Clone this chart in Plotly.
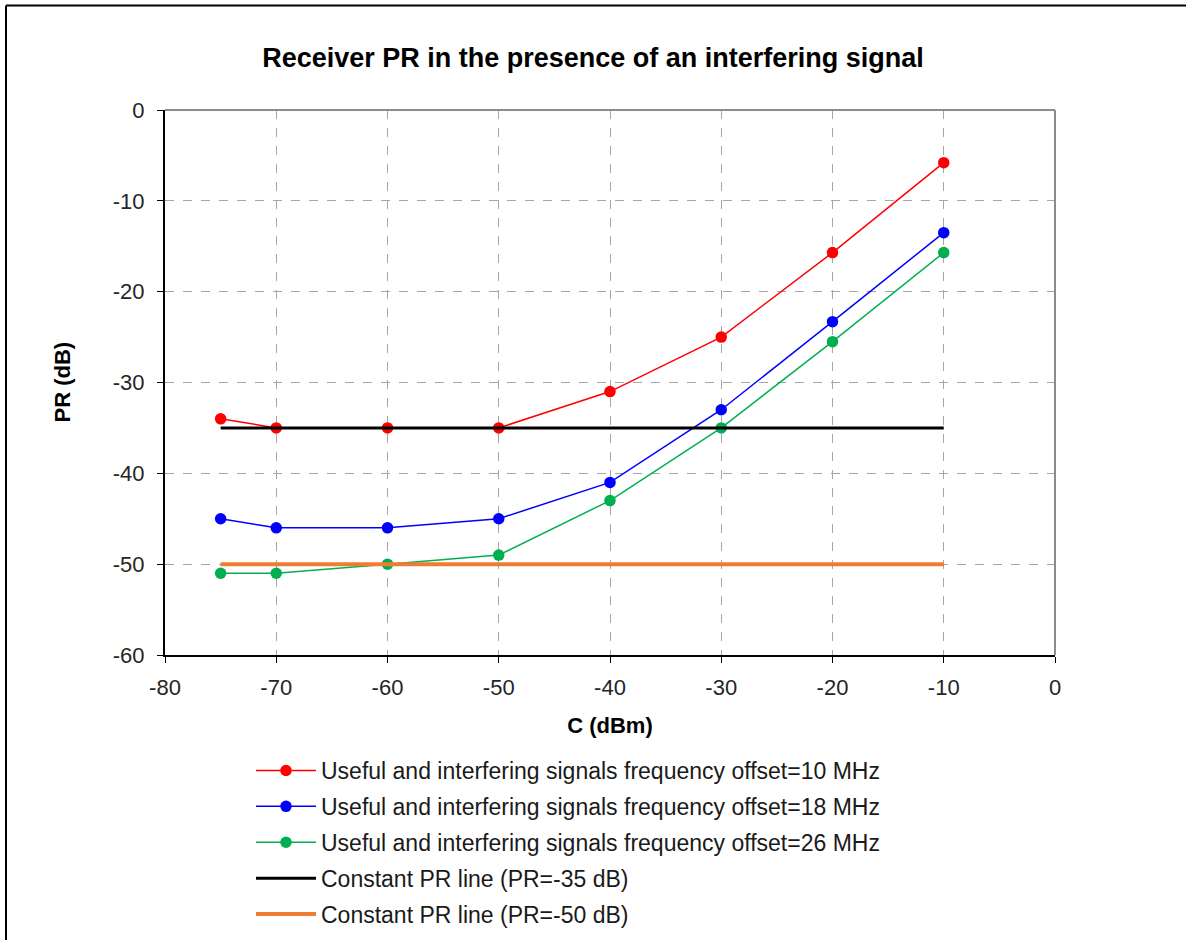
import plotly.graph_objects as go

c_dbm = [-75, -70, -60, -50, -40, -30, -20, -10]
pr_10mhz = [-34, -35, -35, -35, -31, -25, -15.7, -5.8]
pr_18mhz = [-45, -46, -46, -45, -41, -33, -23.3, -13.5]
pr_26mhz = [-51, -51, -50, -49, -43, -35, -25.5, -15.7]
const_x = [-75, -10]
const_35 = [-35, -35]
const_50 = [-50, -50]

x_tickvals = [-80, -70, -60, -50, -40, -30, -20, -10, 0]
x_ticktext = ["-80", "-70", "-60", "-50", "-40", "-30", "-20", "-10", "0"]
y_tickvals = [-60, -50, -40, -30, -20, -10, 0]
y_ticktext = ["-60", "-50", "-40", "-30", "-20", "-10", "0"]

names = [
    "Useful and interfering signals frequency offset=10 MHz",
    "Useful and interfering signals frequency offset=18 MHz",
    "Useful and interfering signals frequency offset=26 MHz",
    "Constant PR line (PR=-35 dB)",
    "Constant PR line (PR=-50 dB)",
]

W, H = 1186, 940
L, R, T, B = 165, 1055, 110, 655

fig = go.Figure()
series = [(pr_10mhz, "#FF0000"), (pr_18mhz, "#0000FF"), (pr_26mhz, "#00B050")]
for i, (ys, col) in enumerate(series):
    fig.add_trace(go.Scatter(x=c_dbm, y=ys, mode="lines+markers", name=names[i],
                             line=dict(color=col, width=1.5),
                             marker=dict(color=col, size=11.5), legendgroup=f"g{i}"))
fig.add_trace(go.Scatter(x=const_x, y=const_35, mode="lines", name=names[3],
                         line=dict(color="#000000", width=3), legendgroup="g3"))
fig.add_trace(go.Scatter(x=const_x, y=const_50, mode="lines", name=names[4],
                         line=dict(color="#ED7D31", width=4), legendgroup="g4"))

def px2x(p):
    return (p - L) / (R - L)

def px2y(p):
    return (B - p) / (B - T)

shapes = [
    dict(type="line", xref="paper", yref="paper", x0=0, x1=1, y0=1, y1=1,
         line=dict(color="#8C8C8C", width=2)),
    dict(type="line", xref="paper", yref="paper", x0=1, x1=1, y0=0, y1=1,
         line=dict(color="#8C8C8C", width=2)),
    dict(type="line", xref="paper", yref="paper", x0=px2x(6), x1=px2x(1250),
         y0=px2y(5.5), y1=px2y(5.5), line=dict(color="#000000", width=2)),
    dict(type="line", xref="paper", yref="paper", x0=px2x(6), x1=px2x(6),
         y0=px2y(5.5), y1=px2y(1000), line=dict(color="#000000", width=2)),
]

annotations = [
    dict(text="<b>PR (dB)</b>", xref="paper", yref="paper", x=px2x(62), y=0.5,
         xanchor="center", yanchor="middle", textangle=-90, showarrow=False,
         font=dict(size=22, color="#000000")),
]

fig.update_layout(
    width=W, height=H,
    margin=dict(l=L, r=W - R, t=T, b=H - B, autoexpand=False),
    paper_bgcolor="white", plot_bgcolor="white",
    font=dict(family="Liberation Sans, Arial, sans-serif", color="#000000", size=20),
    title=dict(text="<b>Receiver PR in the presence of an interfering signal</b>",
               x=0.5, xanchor="center", y=1 - 58 / H, yanchor="middle",
               font=dict(size=27, color="#000000")),
    showlegend=True,
    legend=dict(x=px2x(251), xanchor="left", y=px2y(749), yanchor="top",
                font=dict(size=23, color="#1a1a1a"), itemwidth=60,
                tracegroupgap=3, bgcolor="rgba(0,0,0,0)"),
    shapes=shapes,
    annotations=annotations,
)
fig.update_xaxes(range=[-80, 0], tickvals=x_tickvals, ticktext=x_ticktext, showgrid=True,
                 gridcolor="#A6A6A6", griddash="dash", gridwidth=1,
                 showline=True, linecolor="#000000", linewidth=2,
                 ticks="outside", ticklen=6, tickcolor="#000000", tickwidth=1,
                 ticklabelstandoff=6,
                 zeroline=False, tickfont=dict(size=22, color="#262626"),
                 title=dict(text="<b>C (dBm)</b>", font=dict(size=22), standoff=18))
fig.update_yaxes(range=[-60, 0], tickvals=y_tickvals, ticktext=y_ticktext, showgrid=True,
                 gridcolor="#A6A6A6", griddash="dash", gridwidth=1,
                 showline=True, linecolor="#000000", linewidth=2,
                 ticks="outside", ticklen=6, tickcolor="#000000", tickwidth=1,
                 ticklabelstandoff=8,
                 zeroline=False, tickfont=dict(size=22, color="#262626"))

fig.write_html("out.html")
